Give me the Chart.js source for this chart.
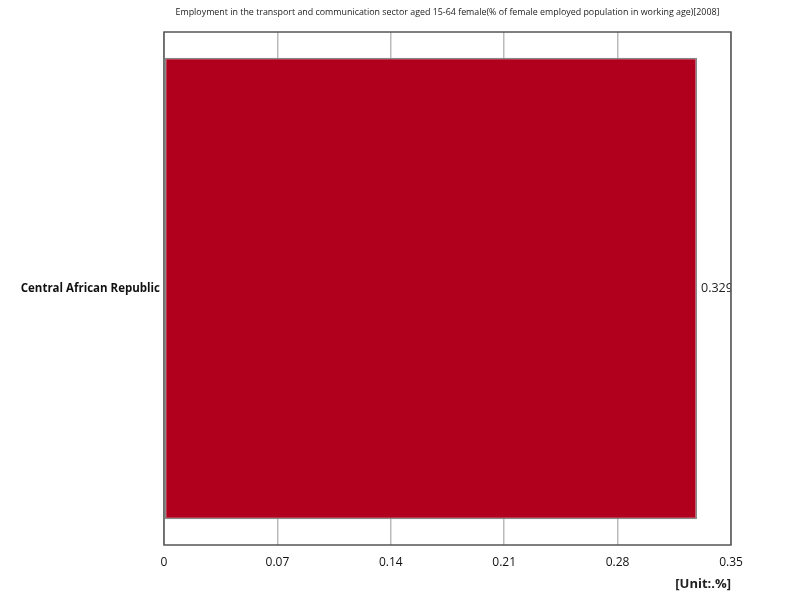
<!DOCTYPE html>
<html><head><meta charset="utf-8">
<script src="https://cdn.jsdelivr.net/npm/chart.js@4"></script>
<style>html,body{margin:0;padding:0;background:#fff}#wrap{width:800px;height:600px}</style>
</head><body><div id="wrap"><canvas id="c" width="800" height="600"></canvas></div>
<script>
const titleText = "Employment in the transport and communication sector aged 15-64 female(% of female employed population in working age)[2008]";
const categories = ["Central African Republic"];
const values = [0.329];
const valueLabels = ["0.329"];
const xTicks = [0, 0.07, 0.14, 0.21, 0.28, 0.35];
const unitText = "[Unit:.%]";
const FONT = "'Open Sans', 'Noto Sans', sans-serif";

const deco = {
  id: 'deco',
  afterDatasetsDraw(chart) {
    const ctx = chart.ctx, a = chart.chartArea;
    const meta = chart.getDatasetMeta(0);
    ctx.save();
    ctx.beginPath(); ctx.rect(a.left, a.top, a.right - a.left, a.bottom - a.top); ctx.clip();
    ctx.fillStyle = '#222'; ctx.font = "12.5px " + FONT; ctx.textBaseline = 'middle'; ctx.textAlign = 'left';
    meta.data.forEach((bar, i) => ctx.fillText(valueLabels[i], bar.x + 4, bar.y));
    ctx.restore();
  },
  afterDraw(chart) {
    const ctx = chart.ctx, a = chart.chartArea;
    ctx.save();
    ctx.strokeStyle = '#555'; ctx.lineWidth = 1.5;
    ctx.strokeRect(a.left, a.top, a.right - a.left, a.bottom - a.top);
    ctx.fillStyle = '#222'; ctx.font = "8.9px " + FONT; ctx.textAlign = 'center'; ctx.textBaseline = 'middle';
    ctx.fillText(titleText, (a.left + a.right) / 2, 12);
    ctx.font = "bold 13px " + FONT; ctx.textAlign = 'right';
    ctx.fillText(unitText, a.right, 584);
    ctx.restore();
  }
};

new Chart(document.getElementById('c'), {
  type: 'bar',
  data: { labels: categories, datasets: [{ data: values, backgroundColor: '#b0001e', borderColor: '#888', borderWidth: 1.5, borderSkipped: false, categoryPercentage: 0.9, barPercentage: 1 }] },
  options: {
    indexAxis: 'y', responsive: false, animation: false,
    layout: { padding: { top: 32, right: 69, left: 0, bottom: 0 } },
    plugins: { legend: { display: false }, tooltip: { enabled: false } },
    scales: {
      x: {
        min: 0, max: 0.35,
        afterBuildTicks(s) { s.ticks = xTicks.map(v => ({ value: v })); },
        afterFit(s) { s.height = 55; },
        grid: { color: '#bbb', lineWidth: 1.5, drawTicks: false },
        border: { display: false },
        ticks: { padding: 10, color: '#111', font: { family: FONT, size: 12, weight: '500' }, maxRotation: 0, callback: (v) => String(v) }
      },
      y: {
        afterFit(s) { s.width = 164; },
        grid: { display: false, drawTicks: false },
        border: { display: false },
        ticks: { padding: 4, color: '#111', font: { family: FONT, size: 11.5, weight: 'bold' } }
      }
    }
  },
  plugins: [deco]
});
</script></body></html>
